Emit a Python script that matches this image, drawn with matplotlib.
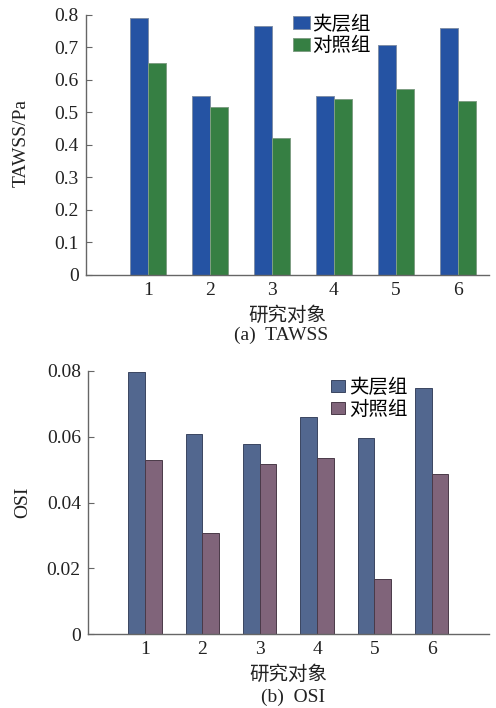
import numpy as np
import matplotlib.pyplot as plt

# data
subjects = [1, 2, 3, 4, 5, 6]
tawss_jiaceng = [0.790, 0.549, 0.767, 0.550, 0.706, 0.759]
tawss_duizhao = [0.653, 0.516, 0.422, 0.542, 0.572, 0.536]
osi_jiaceng = [0.0795, 0.0609, 0.0578, 0.0660, 0.0595, 0.0747]
osi_duizhao = [0.0528, 0.0307, 0.0516, 0.0534, 0.0169, 0.0486]
series_names = ['夹层组', '对照组']

serif = ['Liberation Serif', 'DejaVu Serif']
cjk = ['Noto Sans CJK SC', 'DejaVu Sans']
plt.rcParams['font.family'] = serif
fs = 14

fig = plt.figure(figsize=(4.96, 7.08), dpi=100)
ax1 = fig.add_axes([0.173, 0.6116, 0.813, 0.3674])
ax2 = fig.add_axes([0.177, 0.104, 0.809, 0.3724])

w = 0.29
x = np.array(subjects)


def style(ax, ylim, yticks, ylabels, ylabel, xmax, lx, ly):
    ax.set_xlim(0, xmax)
    ax.set_ylim(*ylim)
    ax.set_yticks(yticks)
    ax.set_yticklabels(ylabels)
    ax.set_xticks(subjects)
    ax.set_xticklabels([str(s) for s in subjects])
    for s in ['top', 'right']:
        ax.spines[s].set_visible(False)
    for s in ['left', 'bottom']:
        ax.spines[s].set_color('#666666')
        ax.spines[s].set_linewidth(1.0)
    ax.tick_params(axis='y', direction='in', length=4, color='#666666',
                   labelsize=fs, pad=5, labelcolor='#222222')
    ax.tick_params(axis='x', length=0, labelsize=fs, pad=5,
                   labelcolor='#222222')
    ax.set_ylabel(ylabel, fontsize=fs, color='#222222')
    ax.yaxis.set_label_coords(lx, ly)
    ax.set_xlabel('研究对象', family=cjk, fontsize=fs, labelpad=4,
                  color='#222222')


# (a) TAWSS
ax1.bar(x - w / 2, tawss_jiaceng, w, color='#2553a3', edgecolor='#7f8fa8',
        linewidth=0.7, label=series_names[0])
ax1.bar(x + w / 2, tawss_duizhao, w, color='#367f43', edgecolor='#7f9f84',
        linewidth=0.7, label=series_names[1])
style(ax1, (0, 0.8), np.arange(0, 0.81, 0.1),
      ['0'] + ['%.1f' % v for v in np.arange(0.1, 0.81, 0.1)], 'TAWSS/Pa',
      6.5, -0.138, 0.508)
fig.legend(*ax1.get_legend_handles_labels(), loc='upper left',
           bbox_to_anchor=(0.591, 0.981), frameon=False,
           prop={'family': cjk, 'size': fs}, handlelength=0.87,
           handleheight=0.67, handletextpad=0.1, labelspacing=0.05,
           borderpad=0, borderaxespad=0)

# (b) OSI
ax2.bar(x - w / 2, osi_jiaceng, w, color='#52678f', edgecolor='#3a4560',
        linewidth=0.7, label=series_names[0])
ax2.bar(x + w / 2, osi_duizhao, w, color='#80647a', edgecolor='#4a3a48',
        linewidth=0.7, label=series_names[1])
style(ax2, (0, 0.08), [0, 0.02, 0.04, 0.06, 0.08],
      ['0', '0.02', '0.04', '0.06', '0.08'], 'OSI', 7, -0.142, 0.50)
fig.legend(*ax2.get_legend_handles_labels(), loc='upper left',
           bbox_to_anchor=(0.667, 0.468), frameon=False,
           prop={'family': cjk, 'size': fs}, handlelength=0.72,
           handleheight=0.55, handletextpad=0.2, labelspacing=0.05,
           borderpad=0, borderaxespad=0)

fig.text(0.567, 1 - 335 / 708, '(a)  TAWSS', ha='center', va='center',
         fontsize=fs, color='#222222')
fig.text(0.59, 1 - 697 / 708, '(b)  OSI', ha='center', va='center',
         fontsize=fs, color='#222222')

fig.savefig('out.png', dpi=100)
